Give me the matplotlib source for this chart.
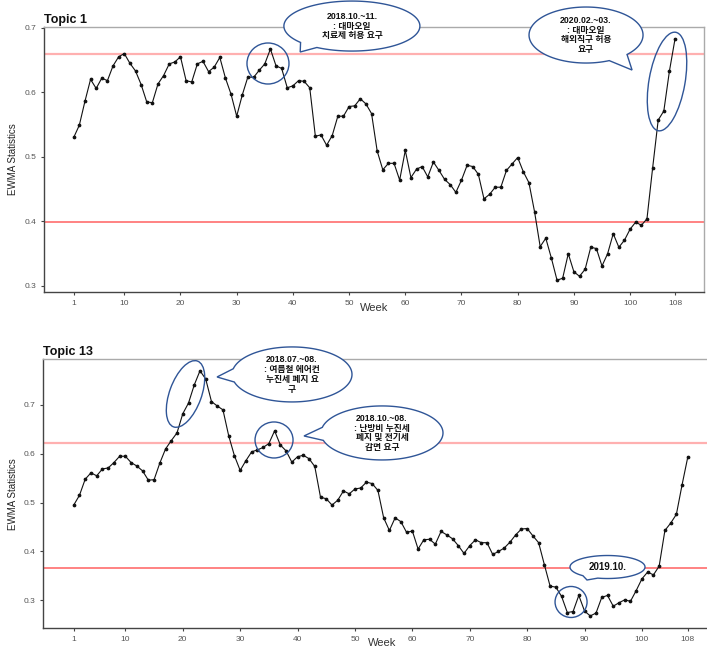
import numpy as np
import matplotlib
matplotlib.use("Agg")
import matplotlib.pyplot as plt
from matplotlib.patches import Polygon, Ellipse
from matplotlib.transforms import IdentityTransform

plt.rcParams['font.family'] = ['Liberation Sans', 'Noto Sans CJK KR', 'DejaVu Sans']

weeks = list(range(1, 109))

topic1 = [0.530, 0.549, 0.586, 0.620, 0.606, 0.622, 0.618, 0.641, 0.655, 0.660,
          0.645, 0.633, 0.612, 0.585, 0.584, 0.613, 0.626, 0.644, 0.647, 0.655,
          0.618, 0.616, 0.644, 0.648, 0.632, 0.639, 0.654, 0.622, 0.597, 0.563,
          0.596, 0.624, 0.623, 0.634, 0.644, 0.667, 0.641, 0.637, 0.607, 0.610,
          0.618, 0.617, 0.607, 0.532, 0.534, 0.518, 0.533, 0.563, 0.563, 0.578,
          0.579, 0.590, 0.582, 0.567, 0.509, 0.480, 0.490, 0.490, 0.464, 0.510,
          0.468, 0.481, 0.485, 0.469, 0.492, 0.479, 0.465, 0.457, 0.445, 0.464,
          0.487, 0.485, 0.473, 0.435, 0.442, 0.453, 0.453, 0.479, 0.489, 0.499,
          0.477, 0.460, 0.415, 0.361, 0.374, 0.343, 0.309, 0.312, 0.350, 0.322,
          0.315, 0.326, 0.360, 0.358, 0.331, 0.350, 0.381, 0.360, 0.371, 0.388,
          0.399, 0.394, 0.404, 0.482, 0.557, 0.571, 0.633, 0.683]

topic13 = [0.495, 0.515, 0.548, 0.561, 0.555, 0.569, 0.571, 0.582, 0.595, 0.595,
           0.582, 0.575, 0.565, 0.546, 0.547, 0.581, 0.610, 0.627, 0.643, 0.682,
           0.704, 0.741, 0.770, 0.753, 0.707, 0.698, 0.690, 0.637, 0.596, 0.566,
           0.586, 0.604, 0.608, 0.613, 0.621, 0.647, 0.618, 0.606, 0.583, 0.594,
           0.597, 0.590, 0.574, 0.511, 0.508, 0.495, 0.505, 0.524, 0.518, 0.528,
           0.530, 0.542, 0.539, 0.525, 0.469, 0.443, 0.469, 0.461, 0.439, 0.442,
           0.405, 0.424, 0.425, 0.415, 0.441, 0.434, 0.426, 0.412, 0.396, 0.412,
           0.424, 0.418, 0.418, 0.394, 0.400, 0.407, 0.419, 0.434, 0.446, 0.447,
           0.432, 0.418, 0.373, 0.329, 0.327, 0.308, 0.275, 0.277, 0.310, 0.278,
           0.268, 0.274, 0.306, 0.310, 0.288, 0.295, 0.301, 0.298, 0.320, 0.344,
           0.358, 0.352, 0.370, 0.443, 0.458, 0.476, 0.537, 0.594]

limits1 = [0.660, 0.399]   # UCL, LCL
limits13 = [0.623, 0.366]

xticks = [1, 10, 20, 30, 40, 50, 60, 70, 80, 90, 100, 108]
yticks = [0.3, 0.4, 0.5, 0.6, 0.7]

W, H = 707, 648
fig = plt.figure(figsize=(W / 100, H / 100), dpi=100)

NAVY = '#2f5597'
TXT = ['Liberation Sans', 'Noto Sans CJK KR', 'DejaVu Sans']


def frac(l, t, r, b):
    return [l / W, (H - b) / H, (r - l) / W, (b - t) / H]


def style(ax, title, xlim, ylim):
    ax.set_xlim(*xlim)
    ax.set_ylim(*ylim)
    ax.set_xticks(xticks)
    ax.set_yticks(yticks)
    ax.set_yticklabels([f"{v:.1f}" for v in yticks])
    for s in ['left', 'bottom']:
        ax.spines[s].set_color('#444444')
        ax.spines[s].set_linewidth(1.0)
    for s in ['top', 'right']:
        ax.spines[s].set_color('#aaaaaa')
        ax.spines[s].set_linewidth(1.0)
    ax.tick_params(axis='both', direction='out', length=2.5, width=0.8,
                   colors='#444444', labelsize=6, labelcolor='#555555')
    ax.tick_params(axis='x', pad=3)
    ax.tick_params(axis='y', pad=3)
    ax.set_title(title, loc='left', fontsize=9, fontweight='bold', pad=3,
                 color='#111111')
    ax.set_ylabel('EWMA Statistics', fontsize=7,
                  family=['Liberation Sans Narrow', 'Liberation Sans'], color='#222222')
    ax.set_xlabel('Week', fontsize=8, color='#333333')


def draw(ax, vals, lims):
    ax.axhline(lims[0], color='#ffb0b0', lw=1.6, zorder=1)
    ax.axhline(lims[1], color='#ff6060', lw=1.1, zorder=1)
    ax.plot(weeks, vals, color='#111111', lw=0.8, marker='o', ms=1.7, zorder=3)


def bubble(ax, cw, cv, a, b, tipw, tipv, t0, dt, text, fs=6.3):
    cx, cy = ax.transData.transform((cw, cv))
    tx, ty = ax.transData.transform((tipw, tipv))
    ts = np.radians(np.linspace(t0 + dt, t0 - dt + 360, 160))
    pts = np.c_[cx + a * np.cos(ts), cy + b * np.sin(ts)]
    pts = np.vstack([pts, [tx, ty]])
    poly = Polygon(pts, closed=True, transform=IdentityTransform(), fc='white',
                   ec=NAVY, lw=1.0, zorder=5, clip_on=False)
    fig.add_artist(poly)
    t = fig.text(cx, cy, text, transform=IdentityTransform(), ha='center', va='center',
                 multialignment='center', fontsize=fs, fontweight='bold',
                 family=TXT, linespacing=1.12, zorder=6, color='#111111')
    return t


def ring(ax, cw, cv, rx, ry, angle=0):
    cx, cy = ax.transData.transform((cw, cv))
    e = Ellipse((cx, cy), 2 * rx, 2 * ry, angle=angle, transform=IdentityTransform(),
                fill=False, ec=NAVY, lw=1.0, zorder=5, clip_on=False)
    fig.add_artist(e)


ax1 = fig.add_axes(frac(44.3, 26.7, 704, 292))
style(ax1, 'Topic 1', (-4.23, 113.15), (0.2907, 0.7016))
draw(ax1, topic1, limits1)
ax1.yaxis.set_label_coords(-0.04, 0.5)
ax1.xaxis.set_label_coords(0.5, -0.04)

ax2 = fig.add_axes(frac(43.3, 359.3, 720, 628.3))
style(ax2, 'Topic 13', (-4.3, 113.6), (0.2427, 0.7935))
draw(ax2, topic13, limits13)
ax2.yaxis.set_label_coords(-0.038, 0.5)
ax2.xaxis.set_label_coords(0.5, -0.035)

# Topic 1 annotations
ring(ax1, 35.57, 0.6446, 21, 20.5)
ring(ax1, 106.57, 0.6167, 18, 50, angle=-10)
bubble(ax1, 50.5, 0.7026, 68, 25, 41.3, 0.6624, 230, 9,
       "2018.10.~11.\n: 대마오일\n치료제 허용 요구")
bubble(ax1, 92.16, 0.6887, 57, 28, 100.35, 0.6345, -55, 11,
       "2020.02.~03.\n: 대마오일\n해외직구 허용\n요구")

# Topic 13 annotations
ring(ax2, 20.48, 0.7225, 16, 35, angle=-20)
ring(ax2, 35.9, 0.6283, 19, 18)
ring(ax2, 87.65, 0.2966, 16, 15.5)
bubble(ax2, 39.03, 0.7625, 60, 27.5, 25.97, 0.7573, 182, 14,
       "2018.07.~08.\n: 여름철 에어컨\n누진세 폐지 요\n구")
bubble(ax2, 54.71, 0.6427, 61, 27, 41.12, 0.6365, 182, 14,
       "2018.10.~08.\n: 난방비 누진세\n폐지 및 전기세\n감면 요구")
bubble(ax2, 94.0, 0.3682, 37.5, 11.5, 90.43, 0.3416, 242, 13, "2019.10.", fs=7)

fig.savefig('out.png', dpi=100)
